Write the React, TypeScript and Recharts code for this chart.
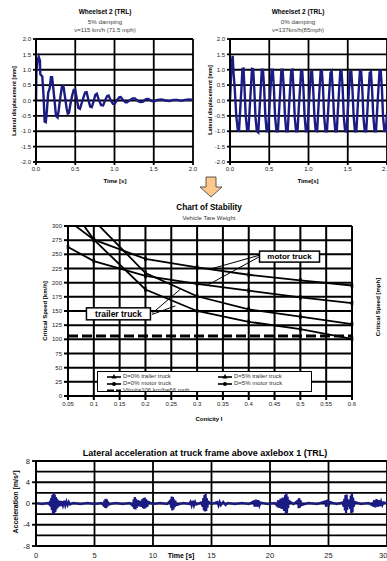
import React from 'react'
import { LineChart, Line, XAxis, YAxis, ReferenceLine, ReferenceDot } from 'recharts'

const FONT = '"Liberation Sans", Arial, sans-serif'
const NAVY = '#1b1b84'

// lateral displacement of wheelset 2, [time s, mm]
const DAMPED_5: [number, number][] = [
  [0, 0], [0.005, 0.9], [0.02, 1.3], [0.035, 1.42], [0.05, 1.3], [0.055, 0.85], [0.08, 0.78], [0.095, 0.2],
  [0.11, -0.68], [0.125, -0.7], [0.14, -0.3], [0.155, 0.25], [0.175, 0.4], [0.19, 0.76], [0.205, 0.76],
  [0.22, 0.4], [0.24, -0.1], [0.255, -0.5], [0.275, -0.55], [0.29, -0.3], [0.31, 0.1], [0.33, 0.44],
  [0.35, 0.46], [0.37, 0.1], [0.39, -0.25], [0.405, -0.43], [0.42, -0.4], [0.44, -0.1], [0.46, 0.15],
  [0.48, 0.34], [0.5, 0.35], [0.52, 0.05], [0.54, -0.24], [0.56, -0.27], [0.58, -0.1], [0.605, 0.1],
  [0.625, 0.26], [0.645, 0.27], [0.665, 0.05], [0.69, -0.2], [0.71, -0.22], [0.735, -0.02], [0.755, 0.18],
  [0.775, 0.22], [0.8, 0.02], [0.83, -0.15], [0.855, -0.16], [0.88, 0.0], [0.905, 0.14], [0.925, 0.16],
  [0.95, 0.02], [0.98, -0.11], [1.0, -0.11], [1.03, 0.0], [1.06, 0.1], [1.08, 0.11], [1.11, 0.01],
  [1.14, -0.06], [1.16, -0.06], [1.2, 0.02], [1.23, 0.07], [1.26, 0.07], [1.3, -0.02], [1.33, -0.05],
  [1.36, -0.04], [1.4, 0.04], [1.43, 0.05], [1.47, -0.01], [1.5, -0.03], [1.55, 0.02], [1.6, 0.03],
  [1.65, 0.0], [1.7, -0.02], [1.75, 0.02], [1.8, 0.02], [1.85, -0.01], [1.9, 0.02], [1.95, 0.03], [2.0, 0.02],
]

const DAMPED_0: [number, number][] = [
  [0, 0], [0.02, 1.2], [0.034, 1.45], [0.045, 0.9], [0.06, 0.4], [0.08, -0.5], [0.1, -0.97], [0.115, -0.98],
  [0.13, -0.3], [0.145, 0.35], [0.158, 1.03], [0.172, 1.04],
  [0.185, 0.4], [0.2, -0.5], [0.218, -0.96], [0.235, -0.97], [0.25, -0.3], [0.265, 0.35], [0.28, 1.03], [0.295, 1.02],
  [0.31, 0.35], [0.325, -0.55], [0.342, -1.0], [0.36, -1.04], [0.375, -0.35], [0.39, 0.3], [0.405, 1.0], [0.42, 1.0],
  [0.435, 0.4], [0.45, -0.5], [0.467, -1.0], [0.485, -1.0], [0.5, -0.3], [0.515, 0.35], [0.53, 1.0], [0.545, 1.0],
  [0.56, 0.35], [0.575, -0.55], [0.592, -1.0], [0.61, -1.0], [0.625, -0.35], [0.64, 0.3], [0.655, 1.0], [0.67, 1.0],
  [0.685, 0.4], [0.7, -0.5], [0.717, -1.0], [0.735, -1.0], [0.75, -0.3], [0.765, 0.35], [0.78, 0.98], [0.795, 1.0],
  [0.81, 0.35], [0.825, -0.55], [0.842, -1.0], [0.86, -1.0], [0.875, -0.3], [0.89, 0.3], [0.905, 0.95], [0.92, 0.97],
  [0.935, 0.4], [0.95, -0.5], [0.967, -1.0], [0.985, -1.0], [1.0, -0.35], [1.015, 0.3], [1.03, 0.92], [1.045, 0.95],
  [1.06, 0.35], [1.075, -0.5], [1.092, -0.98], [1.11, -1.0], [1.125, -0.3], [1.14, 0.35], [1.155, 0.95], [1.17, 0.97],
  [1.185, 0.4], [1.2, -0.55], [1.217, -1.0], [1.235, -1.0], [1.25, -0.35], [1.265, 0.3], [1.28, 0.9], [1.295, 0.95],
  [1.31, 0.35], [1.325, -0.5], [1.342, -1.0], [1.36, -1.0], [1.375, -0.3], [1.39, 0.35], [1.405, 0.95], [1.42, 0.97],
  [1.435, 0.4], [1.45, -0.55], [1.467, -1.0], [1.485, -1.0], [1.5, -0.35], [1.515, 0.3], [1.53, 0.92], [1.545, 0.95],
  [1.56, 0.35], [1.575, -0.5], [1.592, -1.0], [1.61, -1.0], [1.625, -0.3], [1.64, 0.35], [1.655, 0.95], [1.67, 0.97],
  [1.685, 0.4], [1.7, -0.55], [1.717, -1.0], [1.735, -1.0], [1.75, -0.35], [1.765, 0.3], [1.78, 0.9], [1.795, 0.93],
  [1.81, 0.35], [1.825, -0.5], [1.842, -1.0], [1.86, -1.0], [1.875, -0.3], [1.89, 0.35], [1.905, 0.95], [1.92, 0.97],
  [1.935, 0.4], [1.95, -0.55], [1.967, -0.98], [1.985, -1.0], [2.0, -0.4],
]

const DISP_TICKS_Y = [-2, -1.5, -1, -0.5, 0, 0.5, 1, 1.5, 2]
const DISP_TICKS_X = [0, 0.5, 1, 1.5, 2]

// chart of stability, critical speed km/h per conicity
const CONICITY = [0.05, 0.1, 0.2, 0.3, 0.4, 0.5, 0.6]
const D0_TRAILER = [340, 276, 188, 150, 131, 118, 101]
const D5_TRAILER = [380, 310, 217, 176, 153, 140, 127]
const D0_MOTOR = [263, 238, 212, 198, 186, 174, 164]
const D5_MOTOR = [310, 276, 242, 227, 214, 204, 195]
const VLIMIT_KMH = 106
const CONICITY_TICKS = [0.05, 0.1, 0.15, 0.2, 0.25, 0.3, 0.35, 0.4, 0.45, 0.5, 0.55, 0.6]
const KMH_TICKS = [0, 25, 50, 75, 100, 125, 150, 175, 200, 225, 250, 275, 300]
const MPH_TICKS = [0, 20, 40, 60, 80, 100, 120, 140, 160, 180]

// lateral acceleration at truck frame, [time s, m/s2]
const ACCEL: [number, number][] = [
  [0, 0.1], [0.5, -0.1], [1.0, 0.1], [1.15, -0.2],
  [1.2, 0.5], [1.25, -0.6], [1.3, 1.0], [1.35, -1.2], [1.4, 1.6], [1.45, -1.9], [1.5, 2.0], [1.55, -2.0],
  [1.6, 1.7], [1.65, -1.6], [1.7, 1.2], [1.75, -1.1], [1.8, 0.9], [1.85, -0.8], [1.9, 0.6], [1.95, -0.6],
  [2.0, 0.5], [2.05, -0.4], [2.1, 0.5], [2.15, -0.5], [2.2, 0.4], [2.3, -0.4], [2.4, 0.5], [2.5, -0.4],
  [2.6, 0.4], [2.7, -0.3], [2.8, 0.3], [2.9, -0.2],
  [3.2, 0.1], [3.8, -0.1], [4.4, 0.1], [5.0, -0.1], [5.6, 0.1],
  [5.8, -0.4], [5.85, 0.6], [5.9, -0.8], [5.95, 0.9], [6.0, -0.9], [6.05, 0.8], [6.1, -0.6], [6.15, 0.4], [6.2, -0.2],
  [6.8, 0.1], [7.4, -0.1], [8.0, 0.1],
  [8.3, -0.5], [8.35, 0.8], [8.4, -1.0], [8.45, 1.2], [8.5, -1.1], [8.55, 0.9], [8.6, -0.8], [8.7, 0.6],
  [8.8, -0.5], [8.9, 0.5], [9.0, -0.6], [9.1, 0.8], [9.15, -0.9], [9.2, 1.0], [9.25, -1.0], [9.3, 1.1],
  [9.35, -0.9], [9.4, 0.8], [9.5, -0.6], [9.6, 0.3],
  [10.0, -0.1], [10.6, 0.1], [11.2, -0.1],
  [11.5, 0.6], [11.55, -0.8], [11.6, 1.3], [11.65, -1.3], [11.7, 1.2], [11.75, -1.1], [11.8, 0.8],
  [11.85, -0.7], [11.9, 0.5], [12.0, -0.3],
  [12.6, 0.1], [13.1, -0.1],
  [13.2, 0.3], [13.3, -0.4], [13.4, 0.5], [13.5, -0.4], [13.6, 0.3], [13.7, -0.2],
  [14.1, 0.2], [14.25, -0.6], [14.3, 1.0], [14.35, -1.3], [14.4, 1.6], [14.45, -1.5], [14.5, 1.8],
  [14.55, -1.4], [14.6, 1.0], [14.65, -0.8], [14.7, 0.4],
  [15.0, -0.1], [15.5, 0.3], [15.6, -0.4], [15.7, 0.3], [15.8, -0.3], [16.0, 0.3], [16.2, -0.3], [16.4, 0.1],
  [17.0, -0.1], [17.6, 0.1], [18.2, -0.1],
  [18.6, 0.4], [18.7, -0.6], [18.8, 0.7], [18.9, -0.6], [19.0, 0.6], [19.1, -0.4], [19.2, 0.2],
  [19.8, -0.1], [20.4, 0.1],
  [20.6, -0.4], [20.7, 0.6], [20.8, -0.8], [20.9, 0.9], [21.0, -1.0], [21.1, 1.1], [21.2, -1.4], [21.3, 1.6],
  [21.35, -1.9], [21.4, 2.0], [21.45, -1.8], [21.5, 1.3], [21.55, -0.9], [21.6, 0.5],
  [22.0, -0.1], [22.4, 0.6], [22.45, -0.9], [22.5, 1.0], [22.55, -0.8], [22.6, 0.6], [22.7, -0.3],
  [23.3, 0.1], [24.0, -0.1],
  [24.7, 0.4], [24.8, -0.6], [24.9, 0.7], [25.0, -0.5], [25.1, 0.3],
  [25.7, -0.1], [26.2, 0.2],
  [26.3, -0.6], [26.35, 0.9], [26.4, -1.3], [26.45, 1.6], [26.5, -1.8], [26.55, 1.7], [26.6, -1.2],
  [26.65, 0.8], [26.7, -0.6], [26.8, 0.7], [26.85, -1.0], [26.9, 1.5], [26.95, -1.8], [27.0, 2.0],
  [27.05, -1.7], [27.1, 1.1], [27.15, -0.6], [27.25, 0.3],
  [27.8, -0.1], [28.4, 0.1],
  [28.8, -0.4], [28.9, 0.6], [29.0, -0.7], [29.1, 0.8], [29.2, -0.6], [29.3, 0.6], [29.4, -0.5], [29.5, 0.4],
  [29.6, -0.3], [29.7, 0.2], [30.0, 0.0],
]
const ACCEL_TICKS_Y = [-8, -6, -4, -2, 0, 2, 4, 6, 8]
const ACCEL_TICKS_X = [0, 5, 10, 15, 20, 25, 30]

function Txt({ x, y, size, bold, rotate, color = '#000', children }: any) {
  return (
    <div
      style={{
        position: 'absolute',
        left: x,
        top: y,
        transform: `translate(-50%, -50%)${rotate ? ' rotate(-90deg)' : ''}`,
        fontSize: size,
        fontWeight: bold ? 700 : 400,
        color,
        whiteSpace: 'pre',
        fontFamily: FONT,
        lineHeight: 1,
      }}
    >
      {children}
    </div>
  )
}

const tickStyle = (size: number) => ({ fontSize: size, fill: '#222', fontFamily: FONT })

// black excel-style grid, one reference line per tick
function gridLines(xs: number[], ys: number[], w: number, yAxisId?: string) {
  const id = yAxisId ?? 0
  return [
    ...xs.map((v) => <ReferenceLine key={'gx' + v} yAxisId={id} x={v} stroke="#000" strokeWidth={w} />),
    ...ys.map((v) => <ReferenceLine key={'gy' + v} yAxisId={id} y={v} stroke="#000" strokeWidth={w} />),
  ]
}

function DisplacementPanel({ left, data, axisWidth, rightMargin }: any) {
  const rows = data.map(([t, y]: [number, number]) => ({ t, y }))
  return (
    <div style={{ position: 'absolute', left, top: 0 }}>
      <LineChart width={200} height={190} data={rows} margin={{ top: 39, right: rightMargin, bottom: 0, left: 0 }}>
        <XAxis
          dataKey="t"
          type="number"
          domain={[0, 2]}
          ticks={DISP_TICKS_X}
          tickFormatter={(v: number) => v.toFixed(1)}
          height={28}
          tickSize={3}
          stroke="#000"
          strokeWidth={1.8}
          tick={tickStyle(6)}
        />
        <YAxis
          domain={[-2, 2]}
          ticks={DISP_TICKS_Y}
          tickFormatter={(v: number) => v.toFixed(1)}
          width={axisWidth}
          tickSize={3}
          stroke="#000"
          strokeWidth={1.8}
          tick={tickStyle(6)}
        />
        {gridLines(DISP_TICKS_X, DISP_TICKS_Y, 1.8)}
        <Line dataKey="y" type="linear" stroke={NAVY} strokeWidth={2.4} dot={false} isAnimationActive={false} />
      </LineChart>
    </div>
  )
}

const TickDot = (p: any) => {
  const v = p.payload ? p.payload[p.dataKey] : p.value
  if (p.cx == null || p.cy == null || v > 300) return <g key={p.key} />
  return <rect key={p.key} x={p.cx - 1.3} y={p.cy - 2.2} width={2.6} height={4.4} fill="#000" />
}

const boxShape = (text: string, w: number, h: number, size: number) => (p: any) => (
  <g>
    <rect x={p.cx - w / 2} y={p.cy - h / 2} width={w} height={h} fill="#fff" stroke="#000" strokeWidth={1.5} />
    <text x={p.cx} y={p.cy + size * 0.36} textAnchor="middle" fontSize={size} fontWeight={700} fontFamily={FONT}>
      {text}
    </text>
  </g>
)

function StabilityPanel() {
  const rows = CONICITY.map((c, i) => ({
    c,
    d0t: D0_TRAILER[i],
    d5t: D5_TRAILER[i],
    d0m: D0_MOTOR[i],
    d5m: D5_MOTOR[i],
  }))
  const series = ['d0t', 'd5t', 'd0m', 'd5m']
  return (
    <div style={{ position: 'absolute', left: 0, top: 195 }}>
      <LineChart width={387} height={235} data={rows} margin={{ top: 31, right: 0, bottom: 0, left: 0 }}>
        <XAxis
          dataKey="c"
          type="number"
          domain={[0.05, 0.6]}
          ticks={CONICITY_TICKS}
          height={34}
          tickSize={4}
          stroke="#000"
          strokeWidth={2}
          tick={tickStyle(6)}
        />
        <YAxis
          yAxisId="kmh"
          domain={[0, 300]}
          ticks={KMH_TICKS}
          allowDataOverflow
          width={68}
          tickSize={4}
          stroke="#000"
          strokeWidth={2}
          tick={tickStyle(6)}
        />
        <YAxis
          yAxisId="mph"
          orientation="right"
          domain={[0, 300 / 1.609344]}
          ticks={MPH_TICKS}
          width={35}
          tickSize={4}
          stroke="#000"
          strokeWidth={2}
          tick={tickStyle(6)}
        />
        {gridLines(CONICITY_TICKS, KMH_TICKS, 2, 'kmh')}
        <ReferenceLine yAxisId="kmh" y={VLIMIT_KMH} stroke="#000" strokeWidth={3} strokeDasharray="10 4" />
        {series.map((k) => (
          <Line
            key={k}
            yAxisId="kmh"
            dataKey={k}
            type="linear"
            stroke="#000"
            strokeWidth={1.8}
            dot={TickDot}
            isAnimationActive={false}
          />
        ))}
        <ReferenceLine yAxisId="kmh" segment={[{ x: 0.423, y: 249 }, { x: 0.322, y: 223 }]} stroke="#000" strokeWidth={1} />
        <ReferenceLine yAxisId="kmh" segment={[{ x: 0.423, y: 247 }, { x: 0.319, y: 195 }]} stroke="#000" strokeWidth={1} />
        <ReferenceLine yAxisId="kmh" segment={[{ x: 0.213, y: 146 }, { x: 0.267, y: 188 }]} stroke="#000" strokeWidth={1} />
        <ReferenceLine yAxisId="kmh" segment={[{ x: 0.213, y: 144 }, { x: 0.258, y: 159 }]} stroke="#000" strokeWidth={1} />
        <ReferenceDot yAxisId="kmh" x={0.479} y={246} shape={boxShape('motor  truck', 60, 11, 8)} />
        <ReferenceDot yAxisId="kmh" x={0.1477} y={145} shape={boxShape('trailer truck', 64, 12, 8.5)} />
      </LineChart>
    </div>
  )
}

function LegendIcon({ kind }: { kind: string }) {
  return (
    <svg width={16} height={6} style={{ display: 'block' }}>
      {kind === 'dash' ? (
        <line x1={1} y1={3} x2={15} y2={3} stroke="#000" strokeWidth={3} strokeDasharray="7 2" />
      ) : (
        <>
          <line x1={1} y1={3} x2={15} y2={3} stroke="#000" strokeWidth={1.6} />
          {kind === 'tri' ? <polygon points="8,0 10.5,4.5 5.5,4.5" fill="#000" /> : <circle cx={8} cy={3} r={2} fill="#000" />}
        </>
      )}
    </svg>
  )
}

function StabilityLegend() {
  const items = [
    { label: 'D=0% trailer truck', kind: 'tri', x: 8, y: 1 },
    { label: 'D=5% trailer truck', kind: 'tri', x: 119, y: 1 },
    { label: 'D=0% motor truck', kind: 'dot', x: 8, y: 8 },
    { label: 'D=5% motor truck', kind: 'dot', x: 119, y: 8 },
    { label: 'Vlimit=106 km/h=66 mph', kind: 'dash', x: 8, y: 15 },
  ]
  return (
    <div
      style={{
        position: 'absolute',
        left: 97,
        top: 371,
        width: 213,
        height: 19,
        border: '1.5px solid #000',
        background: '#fff',
        overflow: 'hidden',
      }}
    >
      {items.map((it) => (
        <div
          key={it.label}
          style={{
            position: 'absolute',
            left: it.x,
            top: it.y,
            display: 'flex',
            alignItems: 'center',
            gap: 1,
            fontFamily: FONT,
            fontSize: 6,
            color: '#333',
            whiteSpace: 'nowrap',
            lineHeight: '7px',
          }}
        >
          <LegendIcon kind={it.kind} />
          <span>{it.label}</span>
        </div>
      ))}
    </div>
  )
}

function AccelPanel() {
  const rows = ACCEL.map(([t, a]) => ({ t, a }))
  return (
    <div style={{ position: 'absolute', left: 0, top: 440 }}>
      <LineChart width={387} height={121} data={rows} margin={{ top: 21, right: 0, bottom: 0, left: 0 }}>
        <XAxis
          dataKey="t"
          type="number"
          domain={[0, 30]}
          ticks={ACCEL_TICKS_X}
          height={15}
          tickLine={false}
          tickSize={5}
          stroke="#000"
          strokeWidth={1.8}
          tick={tickStyle(7.5)}
        />
        <YAxis
          domain={[-8, 8]}
          ticks={ACCEL_TICKS_Y}
          width={36}
          tickSize={4}
          stroke="#000"
          strokeWidth={1.8}
          tick={tickStyle(7.5)}
        />
        {gridLines(ACCEL_TICKS_X, ACCEL_TICKS_Y, 1.8)}
        <Line dataKey="a" type="linear" stroke={NAVY} strokeWidth={2.2} dot={false} isAnimationActive={false} />
      </LineChart>
    </div>
  )
}

export default function App() {
  return (
    <div
      style={{
        position: 'absolute',
        left: 0,
        top: 0,
        width: 387,
        height: 561,
        overflow: 'hidden',
        background: '#fff',
        fontFamily: FONT,
      }}
    >
      <DisplacementPanel left={0} data={DAMPED_5} axisWidth={36} rightMargin={7} />
      <DisplacementPanel left={190} data={DAMPED_0} axisWidth={40} rightMargin={3} />

      <Txt x={105} y={12} size={6.5} bold>Wheelset 2 (TRL)</Txt>
      <Txt x={105} y={22} size={6.2} color="#444">5% damping</Txt>
      <Txt x={105} y={30} size={6} color="#444">v=115 km/h (71.5 mph)</Txt>
      <Txt x={15} y={101} size={5.5} bold rotate>Lateral displacement [mm]</Txt>
      <Txt x={115} y={181} size={6} bold>Time [s]</Txt>

      <Txt x={298} y={12} size={6.5} bold>Wheelset 2 (TRL)</Txt>
      <Txt x={298} y={22} size={6.2} color="#444">0% damping</Txt>
      <Txt x={298} y={30} size={6} color="#444">v=137km/h(85mph)</Txt>
      <Txt x={211} y={100} size={5.5} bold rotate>Lateral displacement [mm]</Txt>
      <Txt x={308} y={181} size={6} bold>Time[s]</Txt>

      <svg width={30} height={24} style={{ position: 'absolute', left: 196, top: 175 }}>
        <polygon points="10,2 20,2 20,12 26,12 15,22 4,12 10,12" fill="#fcc88c" stroke="#333" strokeWidth={0.8} />
      </svg>

      <StabilityPanel />
      <StabilityLegend />
      <Txt x={209} y={208} size={8.2} bold>Chart of Stability</Txt>
      <Txt x={209} y={218} size={6} color="#333">Vehicle Tare Weight</Txt>
      <Txt x={45} y={311} size={6} bold rotate>Critical Speed [km/h]</Txt>
      <Txt x={378} y={307} size={6} bold rotate>Critical Speed [mph]</Txt>
      <Txt x={209} y={419} size={6} bold>Conicity I</Txt>

      <AccelPanel />
      <Txt x={205} y={453} size={9} bold>Lateral acceleration at truck frame above axlebox 1 (TRL)</Txt>
      <Txt x={15} y={502} size={7} bold rotate>Acceleration [m/s²]</Txt>
      <Txt x={181} y={555} size={7} bold>Time [s]</Txt>
    </div>
  )
}
